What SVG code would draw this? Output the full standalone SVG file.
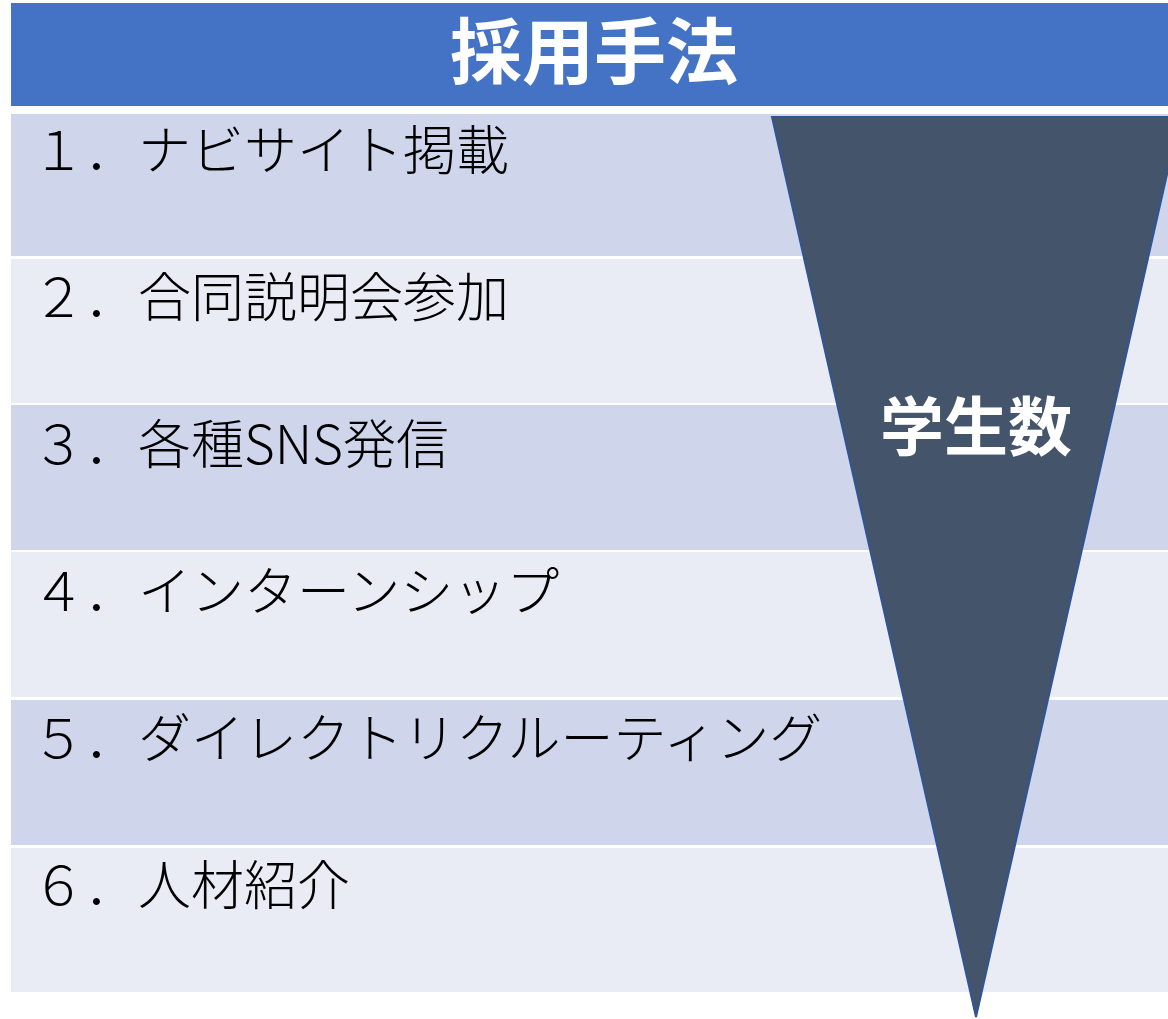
<svg xmlns="http://www.w3.org/2000/svg" width="1168" height="1019" viewBox="0 0 1168 1019">
<style>
.hdr{fill:#4472C4}
.rd{fill:#CFD5EA}
.rl{fill:#E9EBF5}
.lbl{font-family:"Noto Sans CJK JP","Noto Sans",sans-serif;font-size:53px;font-weight:300;fill:#000}
.wt{font-family:"Noto Sans CJK JP","Noto Sans",sans-serif;font-weight:bold;fill:#fff;text-anchor:middle}
.tri{fill:#44546A;stroke:#2F5597;stroke-width:2}
</style>
<rect width="1168" height="1019" fill="#fff"/>
<g id="header">
<rect class="hdr" x="11" y="3" width="1157" height="103"/>
<text class="wt" x="594" y="78" font-size="72">採用手法</text>
</g>
<g id="row1"><rect class="rd" x="11" y="114" width="1157" height="142"/><text class="lbl" x="32" y="170">１．ナビサイト掲載</text></g>
<g id="row2"><rect class="rl" x="11" y="259" width="1157" height="144"/><text class="lbl" x="32" y="317">２．合同説明会参加</text></g>
<g id="row3"><rect class="rd" x="11" y="405" width="1157" height="145"/><text class="lbl" x="32" y="464">３．各種SNS発信</text></g>
<g id="row4"><rect class="rl" x="11" y="552" width="1157" height="145"/><text class="lbl" x="32" y="611">４．インターンシップ</text></g>
<g id="row5"><rect class="rd" x="11" y="700" width="1157" height="145"/><text class="lbl" x="32" y="758">５．ダイレクトリクルーティング</text></g>
<g id="row6"><rect class="rl" x="11" y="848" width="1157" height="144"/><text class="lbl" x="32" y="905">６．人材紹介</text></g>
<g id="funnel">
<polygon class="tri" points="772,117 1180,117 976,1017"/>
<text class="wt" x="976" y="450" font-size="64">学生数</text>
</g>
<g id="connectors"/>
</svg>
